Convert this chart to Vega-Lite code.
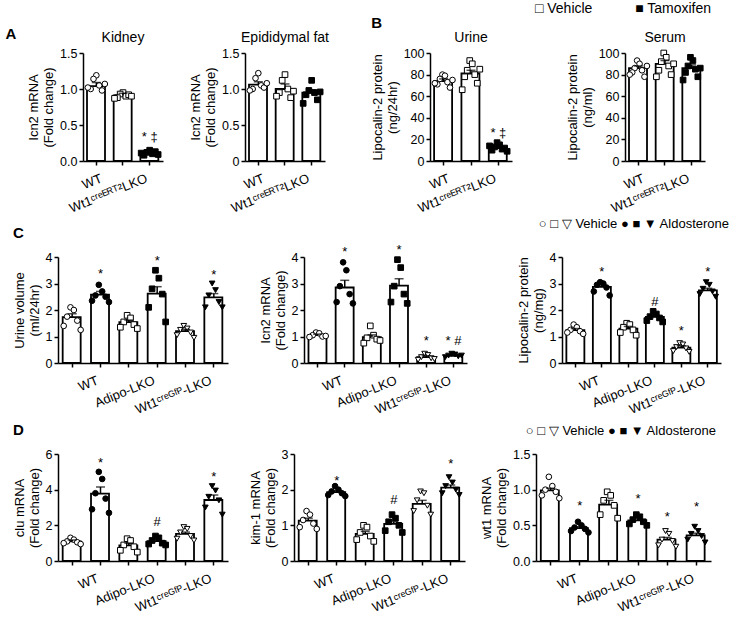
{
  "$schema": "https://vega.github.io/schema/vega-lite/v6.json",
  "padding": {"left": 5, "top": 2, "right": 2, "bottom": 2},
  "config": {
    "font": "Liberation Sans",
    "view": {"stroke": null},
    "axis": {"domainColor": "black", "domainWidth": 1.5, "tickColor": "black", "tickWidth": 1.5, "labelColor": "black", "titleColor": "black", "labelFontSize": 12.5, "titleFontSize": 13, "titleFontWeight": "normal", "grid": false, "labelFont": "Liberation Sans", "titleFont": "Liberation Sans"},
    "axisX": {"tickSize": 4, "labelAngle": -22, "labelAlign": "right", "labelBaseline": "top", "labelPadding": 7, "labelLimit": 300, "labelOverlap": false, "labelFontSize": 13},
    "axisY": {"tickSize": 4, "titlePadding": 4, "labelPadding": 2},
    "title": {"fontSize": 14, "fontWeight": "normal", "font": "Liberation Sans", "color": "black"}
  },
  "datasets": {
    "bars": [
      {"p":"kid","b":"WT|Vehicle","g":"WT","c":"Vehicle","v":1.04,"hi":1.09},
      {"p":"kid","b":"Wt1ᶜʳᵉᴱᴿᵀ²LKO|Vehicle","g":"Wt1ᶜʳᵉᴱᴿᵀ²LKO","c":"Vehicle","v":0.91,"hi":0.94},
      {"p":"kid","b":"Wt1ᶜʳᵉᴱᴿᵀ²LKO|Tamoxifen","g":"Wt1ᶜʳᵉᴱᴿᵀ²LKO","c":"Tamoxifen","v":0.115,"hi":0.13},
      {"p":"epi","b":"WT|Vehicle","g":"WT","c":"Vehicle","v":1.06,"hi":1.1},
      {"p":"epi","b":"Wt1ᶜʳᵉᴱᴿᵀ²LKO|Vehicle","g":"Wt1ᶜʳᵉᴱᴿᵀ²LKO","c":"Vehicle","v":1.0,"hi":1.07},
      {"p":"epi","b":"Wt1ᶜʳᵉᴱᴿᵀ²LKO|Tamoxifen","g":"Wt1ᶜʳᵉᴱᴿᵀ²LKO","c":"Tamoxifen","v":0.95,"hi":0.99},
      {"p":"uri","b":"WT|Vehicle","g":"WT","c":"Vehicle","v":74,"hi":76},
      {"p":"uri","b":"Wt1ᶜʳᵉᴱᴿᵀ²LKO|Vehicle","g":"Wt1ᶜʳᵉᴱᴿᵀ²LKO","c":"Vehicle","v":81,"hi":84},
      {"p":"uri","b":"Wt1ᶜʳᵉᴱᴿᵀ²LKO|Tamoxifen","g":"Wt1ᶜʳᵉᴱᴿᵀ²LKO","c":"Tamoxifen","v":12,"hi":13},
      {"p":"ser","b":"WT|Vehicle","g":"WT","c":"Vehicle","v":86,"hi":88},
      {"p":"ser","b":"Wt1ᶜʳᵉᴱᴿᵀ²LKO|Vehicle","g":"Wt1ᶜʳᵉᴱᴿᵀ²LKO","c":"Vehicle","v":90,"hi":93},
      {"p":"ser","b":"Wt1ᶜʳᵉᴱᴿᵀ²LKO|Tamoxifen","g":"Wt1ᶜʳᵉᴱᴿᵀ²LKO","c":"Tamoxifen","v":86,"hi":89},
      {"p":"c1","b":"WT|Vehicle","g":"WT","c":"Vehicle","v":1.73,"hi":1.86},
      {"p":"c1","b":"WT|Aldosterone","g":"WT","c":"Aldosterone","v":2.58,"hi":2.7},
      {"p":"c1","b":"Adipo-LKO|Vehicle","g":"Adipo-LKO","c":"Vehicle","v":1.54,"hi":1.62},
      {"p":"c1","b":"Adipo-LKO|Aldosterone","g":"Adipo-LKO","c":"Aldosterone","v":2.62,"hi":2.88},
      {"p":"c1","b":"Wt1ᶜʳᵉᴳᶠᴾ-LKO|Vehicle","g":"Wt1ᶜʳᵉᴳᶠᴾ-LKO","c":"Vehicle","v":1.2,"hi":1.27},
      {"p":"c1","b":"Wt1ᶜʳᵉᴳᶠᴾ-LKO|Aldosterone","g":"Wt1ᶜʳᵉᴳᶠᴾ-LKO","c":"Aldosterone","v":2.48,"hi":2.62},
      {"p":"c2","b":"WT|Vehicle","g":"WT","c":"Vehicle","v":1.05,"hi":1.09},
      {"p":"c2","b":"WT|Aldosterone","g":"WT","c":"Aldosterone","v":2.85,"hi":3.12},
      {"p":"c2","b":"Adipo-LKO|Vehicle","g":"Adipo-LKO","c":"Vehicle","v":0.98,"hi":1.06},
      {"p":"c2","b":"Adipo-LKO|Aldosterone","g":"Adipo-LKO","c":"Aldosterone","v":2.92,"hi":3.18},
      {"p":"c2","b":"Wt1ᶜʳᵉᴳᶠᴾ-LKO|Vehicle","g":"Wt1ᶜʳᵉᴳᶠᴾ-LKO","c":"Vehicle","v":0.22,"hi":0.27},
      {"p":"c2","b":"Wt1ᶜʳᵉᴳᶠᴾ-LKO|Aldosterone","g":"Wt1ᶜʳᵉᴳᶠᴾ-LKO","c":"Aldosterone","v":0.27,"hi":0.3},
      {"p":"c3","b":"WT|Vehicle","g":"WT","c":"Vehicle","v":1.24,"hi":1.3},
      {"p":"c3","b":"WT|Aldosterone","g":"WT","c":"Aldosterone","v":2.87,"hi":2.95},
      {"p":"c3","b":"Adipo-LKO|Vehicle","g":"Adipo-LKO","c":"Vehicle","v":1.3,"hi":1.38},
      {"p":"c3","b":"Adipo-LKO|Aldosterone","g":"Adipo-LKO","c":"Aldosterone","v":1.74,"hi":1.8},
      {"p":"c3","b":"Wt1ᶜʳᵉᴳᶠᴾ-LKO|Vehicle","g":"Wt1ᶜʳᵉᴳᶠᴾ-LKO","c":"Vehicle","v":0.58,"hi":0.65},
      {"p":"c3","b":"Wt1ᶜʳᵉᴳᶠᴾ-LKO|Aldosterone","g":"Wt1ᶜʳᵉᴳᶠᴾ-LKO","c":"Aldosterone","v":2.74,"hi":2.82},
      {"p":"d1","b":"WT|Vehicle","g":"WT","c":"Vehicle","v":1.1,"hi":1.18},
      {"p":"d1","b":"WT|Aldosterone","g":"WT","c":"Aldosterone","v":3.78,"hi":4.15},
      {"p":"d1","b":"Adipo-LKO|Vehicle","g":"Adipo-LKO","c":"Vehicle","v":0.88,"hi":1.0},
      {"p":"d1","b":"Adipo-LKO|Aldosterone","g":"Adipo-LKO","c":"Aldosterone","v":1.12,"hi":1.2},
      {"p":"d1","b":"Wt1ᶜʳᵉᴳᶠᴾ-LKO|Vehicle","g":"Wt1ᶜʳᵉᴳᶠᴾ-LKO","c":"Vehicle","v":1.52,"hi":1.62},
      {"p":"d1","b":"Wt1ᶜʳᵉᴳᶠᴾ-LKO|Aldosterone","g":"Wt1ᶜʳᵉᴳᶠᴾ-LKO","c":"Aldosterone","v":3.42,"hi":3.7},
      {"p":"d2","b":"WT|Vehicle","g":"WT","c":"Vehicle","v":1.13,"hi":1.2},
      {"p":"d2","b":"WT|Aldosterone","g":"WT","c":"Aldosterone","v":1.93,"hi":1.97},
      {"p":"d2","b":"Adipo-LKO|Vehicle","g":"Adipo-LKO","c":"Vehicle","v":0.76,"hi":0.83},
      {"p":"d2","b":"Adipo-LKO|Aldosterone","g":"Adipo-LKO","c":"Aldosterone","v":1.04,"hi":1.1},
      {"p":"d2","b":"Wt1ᶜʳᵉᴳᶠᴾ-LKO|Vehicle","g":"Wt1ᶜʳᵉᴳᶠᴾ-LKO","c":"Vehicle","v":1.6,"hi":1.7},
      {"p":"d2","b":"Wt1ᶜʳᵉᴳᶠᴾ-LKO|Aldosterone","g":"Wt1ᶜʳᵉᴳᶠᴾ-LKO","c":"Aldosterone","v":2.06,"hi":2.13},
      {"p":"d3","b":"WT|Vehicle","g":"WT","c":"Vehicle","v":0.99,"hi":1.02},
      {"p":"d3","b":"WT|Aldosterone","g":"WT","c":"Aldosterone","v":0.46,"hi":0.48},
      {"p":"d3","b":"Adipo-LKO|Vehicle","g":"Adipo-LKO","c":"Vehicle","v":0.79,"hi":0.85},
      {"p":"d3","b":"Adipo-LKO|Aldosterone","g":"Adipo-LKO","c":"Aldosterone","v":0.57,"hi":0.6},
      {"p":"d3","b":"Wt1ᶜʳᵉᴳᶠᴾ-LKO|Vehicle","g":"Wt1ᶜʳᵉᴳᶠᴾ-LKO","c":"Vehicle","v":0.3,"hi":0.33},
      {"p":"d3","b":"Wt1ᶜʳᵉᴳᶠᴾ-LKO|Aldosterone","g":"Wt1ᶜʳᵉᴳᶠᴾ-LKO","c":"Aldosterone","v":0.36,"hi":0.39}
    ],
    "ul": [
      {"p":"kid","b":"WT|Vehicle","b2":"WT|Vehicle"},
      {"p":"kid","b":"Wt1ᶜʳᵉᴱᴿᵀ²LKO|Vehicle","b2":"Wt1ᶜʳᵉᴱᴿᵀ²LKO|Tamoxifen"},
      {"p":"epi","b":"WT|Vehicle","b2":"WT|Vehicle"},
      {"p":"epi","b":"Wt1ᶜʳᵉᴱᴿᵀ²LKO|Vehicle","b2":"Wt1ᶜʳᵉᴱᴿᵀ²LKO|Tamoxifen"},
      {"p":"uri","b":"WT|Vehicle","b2":"WT|Vehicle"},
      {"p":"uri","b":"Wt1ᶜʳᵉᴱᴿᵀ²LKO|Vehicle","b2":"Wt1ᶜʳᵉᴱᴿᵀ²LKO|Tamoxifen"},
      {"p":"ser","b":"WT|Vehicle","b2":"WT|Vehicle"},
      {"p":"ser","b":"Wt1ᶜʳᵉᴱᴿᵀ²LKO|Vehicle","b2":"Wt1ᶜʳᵉᴱᴿᵀ²LKO|Tamoxifen"},
      {"p":"c1","b":"WT|Vehicle","b2":"WT|Aldosterone"},
      {"p":"c1","b":"Adipo-LKO|Vehicle","b2":"Adipo-LKO|Aldosterone"},
      {"p":"c1","b":"Wt1ᶜʳᵉᴳᶠᴾ-LKO|Vehicle","b2":"Wt1ᶜʳᵉᴳᶠᴾ-LKO|Aldosterone"},
      {"p":"c2","b":"WT|Vehicle","b2":"WT|Aldosterone"},
      {"p":"c2","b":"Adipo-LKO|Vehicle","b2":"Adipo-LKO|Aldosterone"},
      {"p":"c2","b":"Wt1ᶜʳᵉᴳᶠᴾ-LKO|Vehicle","b2":"Wt1ᶜʳᵉᴳᶠᴾ-LKO|Aldosterone"},
      {"p":"c3","b":"WT|Vehicle","b2":"WT|Aldosterone"},
      {"p":"c3","b":"Adipo-LKO|Vehicle","b2":"Adipo-LKO|Aldosterone"},
      {"p":"c3","b":"Wt1ᶜʳᵉᴳᶠᴾ-LKO|Vehicle","b2":"Wt1ᶜʳᵉᴳᶠᴾ-LKO|Aldosterone"},
      {"p":"d1","b":"WT|Vehicle","b2":"WT|Aldosterone"},
      {"p":"d1","b":"Adipo-LKO|Vehicle","b2":"Adipo-LKO|Aldosterone"},
      {"p":"d1","b":"Wt1ᶜʳᵉᴳᶠᴾ-LKO|Vehicle","b2":"Wt1ᶜʳᵉᴳᶠᴾ-LKO|Aldosterone"},
      {"p":"d2","b":"WT|Vehicle","b2":"WT|Aldosterone"},
      {"p":"d2","b":"Adipo-LKO|Vehicle","b2":"Adipo-LKO|Aldosterone"},
      {"p":"d2","b":"Wt1ᶜʳᵉᴳᶠᴾ-LKO|Vehicle","b2":"Wt1ᶜʳᵉᴳᶠᴾ-LKO|Aldosterone"},
      {"p":"d3","b":"WT|Vehicle","b2":"WT|Aldosterone"},
      {"p":"d3","b":"Adipo-LKO|Vehicle","b2":"Adipo-LKO|Aldosterone"},
      {"p":"d3","b":"Wt1ᶜʳᵉᴳᶠᴾ-LKO|Vehicle","b2":"Wt1ᶜʳᵉᴳᶠᴾ-LKO|Aldosterone"}
    ],
    "ann": [
      {"p":"kid","b":"Wt1ᶜʳᵉᴱᴿᵀ²LKO|Tamoxifen","t":"* ‡","v":0.33},
      {"p":"uri","b":"Wt1ᶜʳᵉᴱᴿᵀ²LKO|Tamoxifen","t":"* ‡","v":26},
      {"p":"c1","b":"WT|Aldosterone","t":"*","v":3.35},
      {"p":"c1","b":"Adipo-LKO|Aldosterone","t":"*","v":3.85},
      {"p":"c1","b":"Wt1ᶜʳᵉᴳᶠᴾ-LKO|Aldosterone","t":"*","v":3.33},
      {"p":"c2","b":"WT|Aldosterone","t":"*","v":4.2},
      {"p":"c2","b":"Adipo-LKO|Aldosterone","t":"*","v":4.25},
      {"p":"c2","b":"Wt1ᶜʳᵉᴳᶠᴾ-LKO|Vehicle","t":"*","v":0.82},
      {"p":"c2","b":"Wt1ᶜʳᵉᴳᶠᴾ-LKO|Aldosterone","t":"* #","v":0.82},
      {"p":"c3","b":"WT|Aldosterone","t":"*","v":3.42},
      {"p":"c3","b":"Adipo-LKO|Aldosterone","t":"#","v":2.3},
      {"p":"c3","b":"Wt1ᶜʳᵉᴳᶠᴾ-LKO|Vehicle","t":"*","v":1.22},
      {"p":"c3","b":"Wt1ᶜʳᵉᴳᶠᴾ-LKO|Aldosterone","t":"*","v":3.42},
      {"p":"d1","b":"WT|Aldosterone","t":"*","v":5.5},
      {"p":"d1","b":"Adipo-LKO|Aldosterone","t":"#","v":2.2},
      {"p":"d1","b":"Wt1ᶜʳᵉᴳᶠᴾ-LKO|Aldosterone","t":"*","v":4.7},
      {"p":"d2","b":"WT|Aldosterone","t":"*","v":2.25},
      {"p":"d2","b":"Adipo-LKO|Aldosterone","t":"#","v":1.7},
      {"p":"d2","b":"Wt1ᶜʳᵉᴳᶠᴾ-LKO|Aldosterone","t":"*","v":2.72},
      {"p":"d3","b":"WT|Aldosterone","t":"*","v":0.77},
      {"p":"d3","b":"Adipo-LKO|Aldosterone","t":"*","v":0.87},
      {"p":"d3","b":"Wt1ᶜʳᵉᴳᶠᴾ-LKO|Vehicle","t":"*","v":0.62},
      {"p":"d3","b":"Wt1ᶜʳᵉᴳᶠᴾ-LKO|Aldosterone","t":"*","v":0.76}
    ],
    "pts": [
      {"p":"kid","b":"WT|Vehicle","r":4,"v":1.19},{"p":"kid","b":"WT|Vehicle","r":3,"v":1.14},{"p":"kid","b":"WT|Vehicle","r":5,"v":1.05},{"p":"kid","b":"WT|Vehicle","r":2,"v":1.0},{"p":"kid","b":"WT|Vehicle","r":6,"v":0.98},{"p":"kid","b":"WT|Vehicle","r":1,"v":1.02},{"p":"kid","b":"WT|Vehicle","r":7,"v":1.07},
      {"p":"kid","b":"Wt1ᶜʳᵉᴱᴿᵀ²LKO|Vehicle","r":4,"v":0.95},{"p":"kid","b":"Wt1ᶜʳᵉᴱᴿᵀ²LKO|Vehicle","r":3,"v":0.93},{"p":"kid","b":"Wt1ᶜʳᵉᴱᴿᵀ²LKO|Vehicle","r":5,"v":0.9},{"p":"kid","b":"Wt1ᶜʳᵉᴱᴿᵀ²LKO|Vehicle","r":2,"v":0.88},{"p":"kid","b":"Wt1ᶜʳᵉᴱᴿᵀ²LKO|Vehicle","r":6,"v":0.92},{"p":"kid","b":"Wt1ᶜʳᵉᴱᴿᵀ²LKO|Vehicle","r":1,"v":0.87},{"p":"kid","b":"Wt1ᶜʳᵉᴱᴿᵀ²LKO|Vehicle","r":7,"v":0.9},
      {"p":"kid","b":"Wt1ᶜʳᵉᴱᴿᵀ²LKO|Tamoxifen","r":4,"v":0.15},{"p":"kid","b":"Wt1ᶜʳᵉᴱᴿᵀ²LKO|Tamoxifen","r":3,"v":0.12},{"p":"kid","b":"Wt1ᶜʳᵉᴱᴿᵀ²LKO|Tamoxifen","r":5,"v":0.1},{"p":"kid","b":"Wt1ᶜʳᵉᴱᴿᵀ²LKO|Tamoxifen","r":2,"v":0.08},{"p":"kid","b":"Wt1ᶜʳᵉᴱᴿᵀ²LKO|Tamoxifen","r":6,"v":0.13},{"p":"kid","b":"Wt1ᶜʳᵉᴱᴿᵀ²LKO|Tamoxifen","r":1,"v":0.11},{"p":"kid","b":"Wt1ᶜʳᵉᴱᴿᵀ²LKO|Tamoxifen","r":7,"v":0.09},
      {"p":"epi","b":"WT|Vehicle","r":4,"v":1.22},{"p":"epi","b":"WT|Vehicle","r":3,"v":1.15},{"p":"epi","b":"WT|Vehicle","r":5,"v":1.05},{"p":"epi","b":"WT|Vehicle","r":2,"v":1.0},{"p":"epi","b":"WT|Vehicle","r":6,"v":1.02},{"p":"epi","b":"WT|Vehicle","r":1,"v":0.98},{"p":"epi","b":"WT|Vehicle","r":7,"v":1.08},
      {"p":"epi","b":"Wt1ᶜʳᵉᴱᴿᵀ²LKO|Vehicle","r":4,"v":1.2},{"p":"epi","b":"Wt1ᶜʳᵉᴱᴿᵀ²LKO|Vehicle","r":3,"v":1.12},{"p":"epi","b":"Wt1ᶜʳᵉᴱᴿᵀ²LKO|Vehicle","r":5,"v":1.0},{"p":"epi","b":"Wt1ᶜʳᵉᴱᴿᵀ²LKO|Vehicle","r":2,"v":0.95},{"p":"epi","b":"Wt1ᶜʳᵉᴱᴿᵀ²LKO|Vehicle","r":6,"v":0.88},{"p":"epi","b":"Wt1ᶜʳᵉᴱᴿᵀ²LKO|Vehicle","r":1,"v":0.9},{"p":"epi","b":"Wt1ᶜʳᵉᴱᴿᵀ²LKO|Vehicle","r":7,"v":0.97},
      {"p":"epi","b":"Wt1ᶜʳᵉᴱᴿᵀ²LKO|Tamoxifen","r":4,"v":1.12},{"p":"epi","b":"Wt1ᶜʳᵉᴱᴿᵀ²LKO|Tamoxifen","r":3,"v":0.98},{"p":"epi","b":"Wt1ᶜʳᵉᴱᴿᵀ²LKO|Tamoxifen","r":5,"v":0.95},{"p":"epi","b":"Wt1ᶜʳᵉᴱᴿᵀ²LKO|Tamoxifen","r":2,"v":0.92},{"p":"epi","b":"Wt1ᶜʳᵉᴱᴿᵀ²LKO|Tamoxifen","r":6,"v":0.85},{"p":"epi","b":"Wt1ᶜʳᵉᴱᴿᵀ²LKO|Tamoxifen","r":1,"v":0.8},{"p":"epi","b":"Wt1ᶜʳᵉᴱᴿᵀ²LKO|Tamoxifen","r":7,"v":0.96},
      {"p":"uri","b":"WT|Vehicle","r":4,"v":80},{"p":"uri","b":"WT|Vehicle","r":5,"v":79},{"p":"uri","b":"WT|Vehicle","r":3,"v":76},{"p":"uri","b":"WT|Vehicle","r":6,"v":73},{"p":"uri","b":"WT|Vehicle","r":2,"v":71},{"p":"uri","b":"WT|Vehicle","r":7,"v":68},{"p":"uri","b":"WT|Vehicle","r":1,"v":72},{"p":"uri","b":"WT|Vehicle","r":8,"v":75},
      {"p":"uri","b":"Wt1ᶜʳᵉᴱᴿᵀ²LKO|Vehicle","r":4,"v":93},{"p":"uri","b":"Wt1ᶜʳᵉᴱᴿᵀ²LKO|Vehicle","r":5,"v":90},{"p":"uri","b":"Wt1ᶜʳᵉᴱᴿᵀ²LKO|Vehicle","r":3,"v":84},{"p":"uri","b":"Wt1ᶜʳᵉᴱᴿᵀ²LKO|Vehicle","r":6,"v":80},{"p":"uri","b":"Wt1ᶜʳᵉᴱᴿᵀ²LKO|Vehicle","r":2,"v":78},{"p":"uri","b":"Wt1ᶜʳᵉᴱᴿᵀ²LKO|Vehicle","r":7,"v":72},{"p":"uri","b":"Wt1ᶜʳᵉᴱᴿᵀ²LKO|Vehicle","r":1,"v":66},{"p":"uri","b":"Wt1ᶜʳᵉᴱᴿᵀ²LKO|Vehicle","r":8,"v":85},
      {"p":"uri","b":"Wt1ᶜʳᵉᴱᴿᵀ²LKO|Tamoxifen","r":4,"v":17},{"p":"uri","b":"Wt1ᶜʳᵉᴱᴿᵀ²LKO|Tamoxifen","r":5,"v":15},{"p":"uri","b":"Wt1ᶜʳᵉᴱᴿᵀ²LKO|Tamoxifen","r":3,"v":13},{"p":"uri","b":"Wt1ᶜʳᵉᴱᴿᵀ²LKO|Tamoxifen","r":6,"v":11},{"p":"uri","b":"Wt1ᶜʳᵉᴱᴿᵀ²LKO|Tamoxifen","r":2,"v":10},{"p":"uri","b":"Wt1ᶜʳᵉᴱᴿᵀ²LKO|Tamoxifen","r":7,"v":12},{"p":"uri","b":"Wt1ᶜʳᵉᴱᴿᵀ²LKO|Tamoxifen","r":1,"v":14},{"p":"uri","b":"Wt1ᶜʳᵉᴱᴿᵀ²LKO|Tamoxifen","r":8,"v":9},
      {"p":"ser","b":"WT|Vehicle","r":4,"v":93},{"p":"ser","b":"WT|Vehicle","r":5,"v":90},{"p":"ser","b":"WT|Vehicle","r":3,"v":86},{"p":"ser","b":"WT|Vehicle","r":6,"v":84},{"p":"ser","b":"WT|Vehicle","r":2,"v":82},{"p":"ser","b":"WT|Vehicle","r":7,"v":78},{"p":"ser","b":"WT|Vehicle","r":1,"v":80},{"p":"ser","b":"WT|Vehicle","r":8,"v":88},
      {"p":"ser","b":"Wt1ᶜʳᵉᴱᴿᵀ²LKO|Vehicle","r":4,"v":100},{"p":"ser","b":"Wt1ᶜʳᵉᴱᴿᵀ²LKO|Vehicle","r":5,"v":96},{"p":"ser","b":"Wt1ᶜʳᵉᴱᴿᵀ²LKO|Vehicle","r":3,"v":92},{"p":"ser","b":"Wt1ᶜʳᵉᴱᴿᵀ²LKO|Vehicle","r":6,"v":88},{"p":"ser","b":"Wt1ᶜʳᵉᴱᴿᵀ²LKO|Vehicle","r":2,"v":84},{"p":"ser","b":"Wt1ᶜʳᵉᴱᴿᵀ²LKO|Vehicle","r":7,"v":80},{"p":"ser","b":"Wt1ᶜʳᵉᴱᴿᵀ²LKO|Vehicle","r":1,"v":78},{"p":"ser","b":"Wt1ᶜʳᵉᴱᴿᵀ²LKO|Vehicle","r":8,"v":90},
      {"p":"ser","b":"Wt1ᶜʳᵉᴱᴿᵀ²LKO|Tamoxifen","r":4,"v":96},{"p":"ser","b":"Wt1ᶜʳᵉᴱᴿᵀ²LKO|Tamoxifen","r":5,"v":93},{"p":"ser","b":"Wt1ᶜʳᵉᴱᴿᵀ²LKO|Tamoxifen","r":3,"v":88},{"p":"ser","b":"Wt1ᶜʳᵉᴱᴿᵀ²LKO|Tamoxifen","r":6,"v":85},{"p":"ser","b":"Wt1ᶜʳᵉᴱᴿᵀ²LKO|Tamoxifen","r":2,"v":82},{"p":"ser","b":"Wt1ᶜʳᵉᴱᴿᵀ²LKO|Tamoxifen","r":7,"v":78},{"p":"ser","b":"Wt1ᶜʳᵉᴱᴿᵀ²LKO|Tamoxifen","r":1,"v":75},{"p":"ser","b":"Wt1ᶜʳᵉᴱᴿᵀ²LKO|Tamoxifen","r":8,"v":86},

      {"p":"c1","b":"WT|Vehicle","r":3,"v":2.1},{"p":"c1","b":"WT|Vehicle","r":4,"v":2.0},{"p":"c1","b":"WT|Vehicle","r":2,"v":1.75},{"p":"c1","b":"WT|Vehicle","r":5,"v":1.6},{"p":"c1","b":"WT|Vehicle","r":1,"v":1.4},{"p":"c1","b":"WT|Vehicle","r":6,"v":1.25},
      {"p":"c1","b":"WT|Aldosterone","r":3,"v":2.95},{"p":"c1","b":"WT|Aldosterone","r":4,"v":2.7},{"p":"c1","b":"WT|Aldosterone","r":2,"v":2.55},{"p":"c1","b":"WT|Aldosterone","r":5,"v":2.5},{"p":"c1","b":"WT|Aldosterone","r":1,"v":2.35},{"p":"c1","b":"WT|Aldosterone","r":6,"v":2.3},
      {"p":"c1","b":"Adipo-LKO|Vehicle","r":3,"v":1.8},{"p":"c1","b":"Adipo-LKO|Vehicle","r":4,"v":1.7},{"p":"c1","b":"Adipo-LKO|Vehicle","r":2,"v":1.55},{"p":"c1","b":"Adipo-LKO|Vehicle","r":5,"v":1.45},{"p":"c1","b":"Adipo-LKO|Vehicle","r":1,"v":1.35},{"p":"c1","b":"Adipo-LKO|Vehicle","r":6,"v":1.3},
      {"p":"c1","b":"Adipo-LKO|Aldosterone","r":3,"v":3.5},{"p":"c1","b":"Adipo-LKO|Aldosterone","r":4,"v":3.2},{"p":"c1","b":"Adipo-LKO|Aldosterone","r":2,"v":2.8},{"p":"c1","b":"Adipo-LKO|Aldosterone","r":5,"v":2.6},{"p":"c1","b":"Adipo-LKO|Aldosterone","r":1,"v":2.1},{"p":"c1","b":"Adipo-LKO|Aldosterone","r":6,"v":1.55},
      {"p":"c1","b":"Wt1ᶜʳᵉᴳᶠᴾ-LKO|Vehicle","r":3,"v":1.4},{"p":"c1","b":"Wt1ᶜʳᵉᴳᶠᴾ-LKO|Vehicle","r":4,"v":1.3},{"p":"c1","b":"Wt1ᶜʳᵉᴳᶠᴾ-LKO|Vehicle","r":2,"v":1.25},{"p":"c1","b":"Wt1ᶜʳᵉᴳᶠᴾ-LKO|Vehicle","r":5,"v":1.15},{"p":"c1","b":"Wt1ᶜʳᵉᴳᶠᴾ-LKO|Vehicle","r":1,"v":1.05},{"p":"c1","b":"Wt1ᶜʳᵉᴳᶠᴾ-LKO|Vehicle","r":6,"v":0.95},
      {"p":"c1","b":"Wt1ᶜʳᵉᴳᶠᴾ-LKO|Aldosterone","r":3,"v":3.0},{"p":"c1","b":"Wt1ᶜʳᵉᴳᶠᴾ-LKO|Aldosterone","r":4,"v":2.75},{"p":"c1","b":"Wt1ᶜʳᵉᴳᶠᴾ-LKO|Aldosterone","r":2,"v":2.55},{"p":"c1","b":"Wt1ᶜʳᵉᴳᶠᴾ-LKO|Aldosterone","r":5,"v":2.3},{"p":"c1","b":"Wt1ᶜʳᵉᴳᶠᴾ-LKO|Aldosterone","r":1,"v":2.1},{"p":"c1","b":"Wt1ᶜʳᵉᴳᶠᴾ-LKO|Aldosterone","r":6,"v":2.1},

      {"p":"c2","b":"WT|Vehicle","r":3,"v":1.15},{"p":"c2","b":"WT|Vehicle","r":4,"v":1.12},{"p":"c2","b":"WT|Vehicle","r":2,"v":1.05},{"p":"c2","b":"WT|Vehicle","r":5,"v":1.0},{"p":"c2","b":"WT|Vehicle","r":1,"v":0.98},{"p":"c2","b":"WT|Vehicle","r":6,"v":1.02},
      {"p":"c2","b":"WT|Aldosterone","r":3,"v":3.8},{"p":"c2","b":"WT|Aldosterone","r":4,"v":3.5},{"p":"c2","b":"WT|Aldosterone","r":2,"v":2.9},{"p":"c2","b":"WT|Aldosterone","r":5,"v":2.6},{"p":"c2","b":"WT|Aldosterone","r":1,"v":2.3},{"p":"c2","b":"WT|Aldosterone","r":6,"v":2.25},
      {"p":"c2","b":"Adipo-LKO|Vehicle","r":3,"v":1.4},{"p":"c2","b":"Adipo-LKO|Vehicle","r":4,"v":1.05},{"p":"c2","b":"Adipo-LKO|Vehicle","r":2,"v":0.95},{"p":"c2","b":"Adipo-LKO|Vehicle","r":5,"v":0.9},{"p":"c2","b":"Adipo-LKO|Vehicle","r":1,"v":0.75},{"p":"c2","b":"Adipo-LKO|Vehicle","r":6,"v":0.85},
      {"p":"c2","b":"Adipo-LKO|Aldosterone","r":3,"v":3.9},{"p":"c2","b":"Adipo-LKO|Aldosterone","r":4,"v":3.6},{"p":"c2","b":"Adipo-LKO|Aldosterone","r":2,"v":2.9},{"p":"c2","b":"Adipo-LKO|Aldosterone","r":5,"v":2.6},{"p":"c2","b":"Adipo-LKO|Aldosterone","r":1,"v":2.3},{"p":"c2","b":"Adipo-LKO|Aldosterone","r":6,"v":2.25},
      {"p":"c2","b":"Wt1ᶜʳᵉᴳᶠᴾ-LKO|Vehicle","r":3,"v":0.35},{"p":"c2","b":"Wt1ᶜʳᵉᴳᶠᴾ-LKO|Vehicle","r":4,"v":0.3},{"p":"c2","b":"Wt1ᶜʳᵉᴳᶠᴾ-LKO|Vehicle","r":2,"v":0.22},{"p":"c2","b":"Wt1ᶜʳᵉᴳᶠᴾ-LKO|Vehicle","r":5,"v":0.18},{"p":"c2","b":"Wt1ᶜʳᵉᴳᶠᴾ-LKO|Vehicle","r":1,"v":0.12},{"p":"c2","b":"Wt1ᶜʳᵉᴳᶠᴾ-LKO|Vehicle","r":6,"v":0.15},
      {"p":"c2","b":"Wt1ᶜʳᵉᴳᶠᴾ-LKO|Aldosterone","r":3,"v":0.35},{"p":"c2","b":"Wt1ᶜʳᵉᴳᶠᴾ-LKO|Aldosterone","r":4,"v":0.32},{"p":"c2","b":"Wt1ᶜʳᵉᴳᶠᴾ-LKO|Aldosterone","r":2,"v":0.28},{"p":"c2","b":"Wt1ᶜʳᵉᴳᶠᴾ-LKO|Aldosterone","r":5,"v":0.25},{"p":"c2","b":"Wt1ᶜʳᵉᴳᶠᴾ-LKO|Aldosterone","r":1,"v":0.22},{"p":"c2","b":"Wt1ᶜʳᵉᴳᶠᴾ-LKO|Aldosterone","r":6,"v":0.28},

      {"p":"c3","b":"WT|Vehicle","r":3,"v":1.45},{"p":"c3","b":"WT|Vehicle","r":4,"v":1.35},{"p":"c3","b":"WT|Vehicle","r":2,"v":1.25},{"p":"c3","b":"WT|Vehicle","r":5,"v":1.2},{"p":"c3","b":"WT|Vehicle","r":1,"v":1.15},{"p":"c3","b":"WT|Vehicle","r":6,"v":1.1},
      {"p":"c3","b":"WT|Aldosterone","r":3,"v":3.05},{"p":"c3","b":"WT|Aldosterone","r":4,"v":3.0},{"p":"c3","b":"WT|Aldosterone","r":2,"v":2.95},{"p":"c3","b":"WT|Aldosterone","r":5,"v":2.85},{"p":"c3","b":"WT|Aldosterone","r":1,"v":2.7},{"p":"c3","b":"WT|Aldosterone","r":6,"v":2.55},
      {"p":"c3","b":"Adipo-LKO|Vehicle","r":3,"v":1.5},{"p":"c3","b":"Adipo-LKO|Vehicle","r":4,"v":1.45},{"p":"c3","b":"Adipo-LKO|Vehicle","r":2,"v":1.35},{"p":"c3","b":"Adipo-LKO|Vehicle","r":5,"v":1.25},{"p":"c3","b":"Adipo-LKO|Vehicle","r":1,"v":1.15},{"p":"c3","b":"Adipo-LKO|Vehicle","r":6,"v":1.05},
      {"p":"c3","b":"Adipo-LKO|Aldosterone","r":3,"v":1.95},{"p":"c3","b":"Adipo-LKO|Aldosterone","r":4,"v":1.85},{"p":"c3","b":"Adipo-LKO|Aldosterone","r":2,"v":1.75},{"p":"c3","b":"Adipo-LKO|Aldosterone","r":5,"v":1.7},{"p":"c3","b":"Adipo-LKO|Aldosterone","r":1,"v":1.6},{"p":"c3","b":"Adipo-LKO|Aldosterone","r":6,"v":1.55},
      {"p":"c3","b":"Wt1ᶜʳᵉᴳᶠᴾ-LKO|Vehicle","r":3,"v":0.75},{"p":"c3","b":"Wt1ᶜʳᵉᴳᶠᴾ-LKO|Vehicle","r":4,"v":0.7},{"p":"c3","b":"Wt1ᶜʳᵉᴳᶠᴾ-LKO|Vehicle","r":2,"v":0.6},{"p":"c3","b":"Wt1ᶜʳᵉᴳᶠᴾ-LKO|Vehicle","r":5,"v":0.55},{"p":"c3","b":"Wt1ᶜʳᵉᴳᶠᴾ-LKO|Vehicle","r":1,"v":0.45},{"p":"c3","b":"Wt1ᶜʳᵉᴳᶠᴾ-LKO|Vehicle","r":6,"v":0.42},
      {"p":"c3","b":"Wt1ᶜʳᵉᴳᶠᴾ-LKO|Aldosterone","r":3,"v":3.05},{"p":"c3","b":"Wt1ᶜʳᵉᴳᶠᴾ-LKO|Aldosterone","r":4,"v":2.95},{"p":"c3","b":"Wt1ᶜʳᵉᴳᶠᴾ-LKO|Aldosterone","r":2,"v":2.8},{"p":"c3","b":"Wt1ᶜʳᵉᴳᶠᴾ-LKO|Aldosterone","r":5,"v":2.7},{"p":"c3","b":"Wt1ᶜʳᵉᴳᶠᴾ-LKO|Aldosterone","r":1,"v":2.6},{"p":"c3","b":"Wt1ᶜʳᵉᴳᶠᴾ-LKO|Aldosterone","r":6,"v":2.5},

      {"p":"d1","b":"WT|Vehicle","r":3,"v":1.3},{"p":"d1","b":"WT|Vehicle","r":4,"v":1.2},{"p":"d1","b":"WT|Vehicle","r":2,"v":1.1},{"p":"d1","b":"WT|Vehicle","r":5,"v":1.05},{"p":"d1","b":"WT|Vehicle","r":1,"v":1.0},{"p":"d1","b":"WT|Vehicle","r":6,"v":0.95},
      {"p":"d1","b":"WT|Aldosterone","r":3,"v":5.0},{"p":"d1","b":"WT|Aldosterone","r":4,"v":4.6},{"p":"d1","b":"WT|Aldosterone","r":2,"v":3.8},{"p":"d1","b":"WT|Aldosterone","r":5,"v":3.5},{"p":"d1","b":"WT|Aldosterone","r":1,"v":2.9},{"p":"d1","b":"WT|Aldosterone","r":6,"v":2.7},
      {"p":"d1","b":"Adipo-LKO|Vehicle","r":3,"v":1.25},{"p":"d1","b":"Adipo-LKO|Vehicle","r":4,"v":1.15},{"p":"d1","b":"Adipo-LKO|Vehicle","r":2,"v":0.9},{"p":"d1","b":"Adipo-LKO|Vehicle","r":5,"v":0.8},{"p":"d1","b":"Adipo-LKO|Vehicle","r":1,"v":0.6},{"p":"d1","b":"Adipo-LKO|Vehicle","r":6,"v":0.5},
      {"p":"d1","b":"Adipo-LKO|Aldosterone","r":3,"v":1.4},{"p":"d1","b":"Adipo-LKO|Aldosterone","r":4,"v":1.3},{"p":"d1","b":"Adipo-LKO|Aldosterone","r":2,"v":1.15},{"p":"d1","b":"Adipo-LKO|Aldosterone","r":5,"v":1.0},{"p":"d1","b":"Adipo-LKO|Aldosterone","r":1,"v":0.95},{"p":"d1","b":"Adipo-LKO|Aldosterone","r":6,"v":0.9},
      {"p":"d1","b":"Wt1ᶜʳᵉᴳᶠᴾ-LKO|Vehicle","r":3,"v":1.9},{"p":"d1","b":"Wt1ᶜʳᵉᴳᶠᴾ-LKO|Vehicle","r":4,"v":1.8},{"p":"d1","b":"Wt1ᶜʳᵉᴳᶠᴾ-LKO|Vehicle","r":2,"v":1.6},{"p":"d1","b":"Wt1ᶜʳᵉᴳᶠᴾ-LKO|Vehicle","r":5,"v":1.4},{"p":"d1","b":"Wt1ᶜʳᵉᴳᶠᴾ-LKO|Vehicle","r":1,"v":1.25},{"p":"d1","b":"Wt1ᶜʳᵉᴳᶠᴾ-LKO|Vehicle","r":6,"v":1.15},
      {"p":"d1","b":"Wt1ᶜʳᵉᴳᶠᴾ-LKO|Aldosterone","r":3,"v":4.2},{"p":"d1","b":"Wt1ᶜʳᵉᴳᶠᴾ-LKO|Aldosterone","r":4,"v":3.95},{"p":"d1","b":"Wt1ᶜʳᵉᴳᶠᴾ-LKO|Aldosterone","r":2,"v":3.6},{"p":"d1","b":"Wt1ᶜʳᵉᴳᶠᴾ-LKO|Aldosterone","r":5,"v":3.4},{"p":"d1","b":"Wt1ᶜʳᵉᴳᶠᴾ-LKO|Aldosterone","r":1,"v":3.0},{"p":"d1","b":"Wt1ᶜʳᵉᴳᶠᴾ-LKO|Aldosterone","r":6,"v":2.6},

      {"p":"d2","b":"WT|Vehicle","r":3,"v":1.4},{"p":"d2","b":"WT|Vehicle","r":4,"v":1.3},{"p":"d2","b":"WT|Vehicle","r":2,"v":1.15},{"p":"d2","b":"WT|Vehicle","r":5,"v":1.05},{"p":"d2","b":"WT|Vehicle","r":1,"v":0.95},{"p":"d2","b":"WT|Vehicle","r":6,"v":0.9},
      {"p":"d2","b":"WT|Aldosterone","r":3,"v":2.1},{"p":"d2","b":"WT|Aldosterone","r":4,"v":2.0},{"p":"d2","b":"WT|Aldosterone","r":2,"v":1.95},{"p":"d2","b":"WT|Aldosterone","r":5,"v":1.9},{"p":"d2","b":"WT|Aldosterone","r":1,"v":1.85},{"p":"d2","b":"WT|Aldosterone","r":6,"v":1.82},
      {"p":"d2","b":"Adipo-LKO|Vehicle","r":3,"v":1.0},{"p":"d2","b":"Adipo-LKO|Vehicle","r":4,"v":0.95},{"p":"d2","b":"Adipo-LKO|Vehicle","r":2,"v":0.8},{"p":"d2","b":"Adipo-LKO|Vehicle","r":5,"v":0.7},{"p":"d2","b":"Adipo-LKO|Vehicle","r":1,"v":0.6},{"p":"d2","b":"Adipo-LKO|Vehicle","r":6,"v":0.55},
      {"p":"d2","b":"Adipo-LKO|Aldosterone","r":3,"v":1.3},{"p":"d2","b":"Adipo-LKO|Aldosterone","r":4,"v":1.2},{"p":"d2","b":"Adipo-LKO|Aldosterone","r":2,"v":1.1},{"p":"d2","b":"Adipo-LKO|Aldosterone","r":5,"v":1.0},{"p":"d2","b":"Adipo-LKO|Aldosterone","r":1,"v":0.85},{"p":"d2","b":"Adipo-LKO|Aldosterone","r":6,"v":0.8},
      {"p":"d2","b":"Wt1ᶜʳᵉᴳᶠᴾ-LKO|Vehicle","r":3,"v":1.95},{"p":"d2","b":"Wt1ᶜʳᵉᴳᶠᴾ-LKO|Vehicle","r":4,"v":1.9},{"p":"d2","b":"Wt1ᶜʳᵉᴳᶠᴾ-LKO|Vehicle","r":2,"v":1.7},{"p":"d2","b":"Wt1ᶜʳᵉᴳᶠᴾ-LKO|Vehicle","r":5,"v":1.55},{"p":"d2","b":"Wt1ᶜʳᵉᴳᶠᴾ-LKO|Vehicle","r":1,"v":1.4},{"p":"d2","b":"Wt1ᶜʳᵉᴳᶠᴾ-LKO|Vehicle","r":6,"v":1.3},
      {"p":"d2","b":"Wt1ᶜʳᵉᴳᶠᴾ-LKO|Aldosterone","r":3,"v":2.35},{"p":"d2","b":"Wt1ᶜʳᵉᴳᶠᴾ-LKO|Aldosterone","r":4,"v":2.2},{"p":"d2","b":"Wt1ᶜʳᵉᴳᶠᴾ-LKO|Aldosterone","r":2,"v":2.1},{"p":"d2","b":"Wt1ᶜʳᵉᴳᶠᴾ-LKO|Aldosterone","r":5,"v":2.0},{"p":"d2","b":"Wt1ᶜʳᵉᴳᶠᴾ-LKO|Aldosterone","r":1,"v":1.9},{"p":"d2","b":"Wt1ᶜʳᵉᴳᶠᴾ-LKO|Aldosterone","r":6,"v":1.85},

      {"p":"d3","b":"WT|Vehicle","r":3,"v":1.18},{"p":"d3","b":"WT|Vehicle","r":4,"v":1.05},{"p":"d3","b":"WT|Vehicle","r":2,"v":1.0},{"p":"d3","b":"WT|Vehicle","r":5,"v":0.97},{"p":"d3","b":"WT|Vehicle","r":1,"v":0.92},{"p":"d3","b":"WT|Vehicle","r":6,"v":0.88},
      {"p":"d3","b":"WT|Aldosterone","r":3,"v":0.55},{"p":"d3","b":"WT|Aldosterone","r":4,"v":0.5},{"p":"d3","b":"WT|Aldosterone","r":2,"v":0.47},{"p":"d3","b":"WT|Aldosterone","r":5,"v":0.45},{"p":"d3","b":"WT|Aldosterone","r":1,"v":0.42},{"p":"d3","b":"WT|Aldosterone","r":6,"v":0.4},
      {"p":"d3","b":"Adipo-LKO|Vehicle","r":3,"v":0.97},{"p":"d3","b":"Adipo-LKO|Vehicle","r":4,"v":0.92},{"p":"d3","b":"Adipo-LKO|Vehicle","r":2,"v":0.85},{"p":"d3","b":"Adipo-LKO|Vehicle","r":5,"v":0.78},{"p":"d3","b":"Adipo-LKO|Vehicle","r":1,"v":0.65},{"p":"d3","b":"Adipo-LKO|Vehicle","r":6,"v":0.6},
      {"p":"d3","b":"Adipo-LKO|Aldosterone","r":3,"v":0.65},{"p":"d3","b":"Adipo-LKO|Aldosterone","r":4,"v":0.62},{"p":"d3","b":"Adipo-LKO|Aldosterone","r":2,"v":0.58},{"p":"d3","b":"Adipo-LKO|Aldosterone","r":5,"v":0.55},{"p":"d3","b":"Adipo-LKO|Aldosterone","r":1,"v":0.52},{"p":"d3","b":"Adipo-LKO|Aldosterone","r":6,"v":0.5},
      {"p":"d3","b":"Wt1ᶜʳᵉᴳᶠᴾ-LKO|Vehicle","r":3,"v":0.42},{"p":"d3","b":"Wt1ᶜʳᵉᴳᶠᴾ-LKO|Vehicle","r":4,"v":0.38},{"p":"d3","b":"Wt1ᶜʳᵉᴳᶠᴾ-LKO|Vehicle","r":2,"v":0.3},{"p":"d3","b":"Wt1ᶜʳᵉᴳᶠᴾ-LKO|Vehicle","r":5,"v":0.28},{"p":"d3","b":"Wt1ᶜʳᵉᴳᶠᴾ-LKO|Vehicle","r":1,"v":0.22},{"p":"d3","b":"Wt1ᶜʳᵉᴳᶠᴾ-LKO|Vehicle","r":6,"v":0.2},
      {"p":"d3","b":"Wt1ᶜʳᵉᴳᶠᴾ-LKO|Aldosterone","r":3,"v":0.48},{"p":"d3","b":"Wt1ᶜʳᵉᴳᶠᴾ-LKO|Aldosterone","r":4,"v":0.42},{"p":"d3","b":"Wt1ᶜʳᵉᴳᶠᴾ-LKO|Aldosterone","r":2,"v":0.38},{"p":"d3","b":"Wt1ᶜʳᵉᴳᶠᴾ-LKO|Aldosterone","r":5,"v":0.35},{"p":"d3","b":"Wt1ᶜʳᵉᴳᶠᴾ-LKO|Aldosterone","r":1,"v":0.3},{"p":"d3","b":"Wt1ᶜʳᵉᴳᶠᴾ-LKO|Aldosterone","r":6,"v":0.26}
    ]
  },
  "spacing": 2,
  "resolve": {"scale": {"xOffset": "independent"}},
  "vconcat": [
    {
      "title": {"text": "□ Vehicle\u00a0\u00a0\u00a0\u00a0\u00a0\u00a0\u00a0\u00a0\u00a0\u00a0\u00a0■ Tamoxifen", "anchor": "end", "frame": "bounds", "fontSize": 14, "offset": 0, "dx": 6},
      "spacing": 42,
      "resolve": {"scale": {"xOffset": "independent"}},
      "hconcat": [
        {
          "title": {"text": "A", "anchor": "start", "frame": "bounds", "fontWeight": "bold", "fontSize": 15, "offset": -11, "dx": -22},
          "spacing": 26,
          "resolve": {"scale": {"xOffset": "independent"}},
          "hconcat": [
            {
              "width": 105, "height": 108,
              "title": {"text": "Kidney", "offset": 2, "dx": 12.5},
              "encoding": {
                "x": {"field": "b", "type": "nominal", "scale": {"domain": ["WT|Vehicle","Wt1ᶜʳᵉᴱᴿᵀ²LKO|Vehicle","Wt1ᶜʳᵉᴱᴿᵀ²LKO|Tamoxifen"], "range": [25, 105], "paddingInner": 0.3, "paddingOuter": 0.15},
                  "axis": {"title": null, "labelExpr": "datum.value=='WT|Vehicle' ? 'WT' : datum.value=='Wt1ᶜʳᵉᴱᴿᵀ²LKO|Tamoxifen' ? 'Wt1ᶜʳᵉᴱᴿᵀ²LKO' : ''", "labelOffset": {"condition": {"test": "datum.value=='WT|Vehicle'", "value": 3}, "value": -5}}},
                "y": {"field": "v", "type": "quantitative", "scale": {"domain": [0, 1.5], "nice": false}, "axis": {"values": [0, 0.5, 1, 1.5], "format": ".1f", "offset": -25, "title": ["Icn2 mRNA", "(Fold change)"]}}
              },
              "layer": [
                {"data": {"name": "ul"}, "transform": [{"filter": "datum.p=='kid'"}], "mark": {"type": "rule", "color": "black", "strokeWidth": 1.6},
                  "encoding": {"x": {"field": "b", "type": "nominal", "bandPosition": 0, "scale": {"domain": ["WT|Vehicle","Wt1ᶜʳᵉᴱᴿᵀ²LKO|Vehicle","Wt1ᶜʳᵉᴱᴿᵀ²LKO|Tamoxifen"], "range": [25, 105], "paddingInner": 0.3, "paddingOuter": 0.15},
                    "axis": {"title": null, "labelExpr": "datum.value=='WT|Vehicle' ? 'WT' : datum.value=='Wt1ᶜʳᵉᴱᴿᵀ²LKO|Tamoxifen' ? 'Wt1ᶜʳᵉᴱᴿᵀ²LKO' : ''", "labelOffset": {"condition": {"test": "datum.value=='WT|Vehicle'", "value": 3}, "value": -5}}},
                    "x2": {"field": "b2", "bandPosition": 1},
                    "y": {"datum": -0.09, "type": "quantitative", "scale": {"domain": [0, 1.5], "nice": false}, "axis": {"values": [0, 0.5, 1, 1.5], "format": ".1f", "offset": -25, "title": ["Icn2 mRNA", "(Fold change)"]}}}},
                {"data": {"name": "bars"}, "transform": [{"filter": "datum.p=='kid'"}], "mark": {"type": "bar", "fill": "white", "stroke": "black", "strokeWidth": 1.8}},
                {"data": {"name": "pts"}, "transform": [{"filter": "datum.p=='kid'"}, {"lookup": "b", "from": {"data": {"name": "bars"}, "key": "b", "fields": ["g", "c"]}}], "mark": {"type": "point", "filled": true, "stroke": "black", "strokeWidth": 1, "size": 32, "opacity": 1},
                  "encoding": {"xOffset": {"field": "r", "type": "ordinal", "scale": {"paddingOuter": 0.3}},
                    "shape": {"field": "g", "type": "nominal", "scale": {"domain": ["WT","Wt1ᶜʳᵉᴱᴿᵀ²LKO","Adipo-LKO","Wt1ᶜʳᵉᴳᶠᴾ-LKO"], "range": ["circle","square","square","triangle-down"]}, "legend": null},
                    "fill": {"field": "c", "type": "nominal", "scale": {"domain": ["Vehicle","Tamoxifen","Aldosterone"], "range": ["white","black","black"]}, "legend": null}}},
                {"data": {"name": "bars"}, "transform": [{"filter": "datum.p=='kid'"}], "mark": {"type": "rule", "color": "black", "strokeWidth": 1.5}, "encoding": {"y2": {"field": "hi"}}},
                {"data": {"name": "bars"}, "transform": [{"filter": "datum.p=='kid'"}], "mark": {"type": "tick", "color": "black", "thickness": 1.5, "size": 9},
                  "encoding": {"y": {"field": "hi", "type": "quantitative", "scale": {"domain": [0, 1.5], "nice": false}, "axis": {"values": [0, 0.5, 1, 1.5], "format": ".1f", "offset": -25, "title": ["Icn2 mRNA", "(Fold change)"]}}}},
                {"data": {"name": "ann"}, "transform": [{"filter": "datum.p=='kid'"}], "mark": {"type": "text", "fontSize": 13, "color": "black"}, "encoding": {"text": {"field": "t"}}}
              ]
            },
            {
              "width": 80, "height": 108,
              "title": {"text": "Epididymal fat", "offset": 2},
              "encoding": {
                "x": {"field": "b", "type": "nominal", "scale": {"domain": ["WT|Vehicle","Wt1ᶜʳᵉᴱᴿᵀ²LKO|Vehicle","Wt1ᶜʳᵉᴱᴿᵀ²LKO|Tamoxifen"], "paddingInner": 0.3, "paddingOuter": 0.15},
                  "axis": {"title": null, "labelExpr": "datum.value=='WT|Vehicle' ? 'WT' : datum.value=='Wt1ᶜʳᵉᴱᴿᵀ²LKO|Tamoxifen' ? 'Wt1ᶜʳᵉᴱᴿᵀ²LKO' : ''", "labelOffset": {"condition": {"test": "datum.value=='WT|Vehicle'", "value": 3}, "value": -5}}},
                "y": {"field": "v", "type": "quantitative", "scale": {"domain": [0, 1.5], "nice": false}, "axis": {"values": [0, 0.5, 1, 1.5], "labelExpr": "datum.value==0 ? '0' : format(datum.value, '.1f')", "title": ["Icn2  mRNA", "(Fold change)"]}}
              },
              "layer": [
                {"data": {"name": "ul"}, "transform": [{"filter": "datum.p=='epi'"}], "mark": {"type": "rule", "color": "black", "strokeWidth": 1.6},
                  "encoding": {"x": {"field": "b", "type": "nominal", "bandPosition": 0, "scale": {"domain": ["WT|Vehicle","Wt1ᶜʳᵉᴱᴿᵀ²LKO|Vehicle","Wt1ᶜʳᵉᴱᴿᵀ²LKO|Tamoxifen"], "paddingInner": 0.3, "paddingOuter": 0.15},
                    "axis": {"title": null, "labelExpr": "datum.value=='WT|Vehicle' ? 'WT' : datum.value=='Wt1ᶜʳᵉᴱᴿᵀ²LKO|Tamoxifen' ? 'Wt1ᶜʳᵉᴱᴿᵀ²LKO' : ''", "labelOffset": {"condition": {"test": "datum.value=='WT|Vehicle'", "value": 3}, "value": -5}}},
                    "x2": {"field": "b2", "bandPosition": 1},
                    "y": {"datum": -0.09, "type": "quantitative", "scale": {"domain": [0, 1.5], "nice": false}, "axis": {"values": [0, 0.5, 1, 1.5], "labelExpr": "datum.value==0 ? '0' : format(datum.value, '.1f')", "title": ["Icn2  mRNA", "(Fold change)"]}}}},
                {"data": {"name": "bars"}, "transform": [{"filter": "datum.p=='epi'"}], "mark": {"type": "bar", "fill": "white", "stroke": "black", "strokeWidth": 1.8}},
                {"data": {"name": "pts"}, "transform": [{"filter": "datum.p=='epi'"}, {"lookup": "b", "from": {"data": {"name": "bars"}, "key": "b", "fields": ["g", "c"]}}], "mark": {"type": "point", "filled": true, "stroke": "black", "strokeWidth": 1, "size": 32, "opacity": 1},
                  "encoding": {"xOffset": {"field": "r", "type": "ordinal", "scale": {"paddingOuter": 0.3}},
                    "shape": {"field": "g", "type": "nominal", "scale": {"domain": ["WT","Wt1ᶜʳᵉᴱᴿᵀ²LKO","Adipo-LKO","Wt1ᶜʳᵉᴳᶠᴾ-LKO"], "range": ["circle","square","square","triangle-down"]}, "legend": null},
                    "fill": {"field": "c", "type": "nominal", "scale": {"domain": ["Vehicle","Tamoxifen","Aldosterone"], "range": ["white","black","black"]}, "legend": null}}},
                {"data": {"name": "bars"}, "transform": [{"filter": "datum.p=='epi'"}], "mark": {"type": "rule", "color": "black", "strokeWidth": 1.5}, "encoding": {"y2": {"field": "hi"}}},
                {"data": {"name": "bars"}, "transform": [{"filter": "datum.p=='epi'"}], "mark": {"type": "tick", "color": "black", "thickness": 1.5, "size": 9},
                  "encoding": {"y": {"field": "hi", "type": "quantitative", "scale": {"domain": [0, 1.5], "nice": false}, "axis": {"values": [0, 0.5, 1, 1.5], "labelExpr": "datum.value==0 ? '0' : format(datum.value, '.1f')", "title": ["Icn2  mRNA", "(Fold change)"]}}}}
              ]
            }
          ]
        },
        {
          "title": {"text": "B", "anchor": "start", "frame": "bounds", "fontWeight": "bold", "fontSize": 15, "offset": 0},
          "spacing": 54,
          "resolve": {"scale": {"xOffset": "independent"}},
          "hconcat": [
            {
              "width": 82, "height": 108,
              "title": {"text": "Urine", "offset": 2},
              "encoding": {
                "x": {"field": "b", "type": "nominal", "scale": {"domain": ["WT|Vehicle","Wt1ᶜʳᵉᴱᴿᵀ²LKO|Vehicle","Wt1ᶜʳᵉᴱᴿᵀ²LKO|Tamoxifen"], "paddingInner": 0.3, "paddingOuter": 0.15},
                  "axis": {"title": null, "labelExpr": "datum.value=='WT|Vehicle' ? 'WT' : datum.value=='Wt1ᶜʳᵉᴱᴿᵀ²LKO|Tamoxifen' ? 'Wt1ᶜʳᵉᴱᴿᵀ²LKO' : ''", "labelOffset": {"condition": {"test": "datum.value=='WT|Vehicle'", "value": 3}, "value": -5}}},
                "y": {"field": "v", "type": "quantitative", "scale": {"domain": [0, 100], "nice": false}, "axis": {"values": [0, 20, 40, 60, 80, 100], "title": ["Lipocalin-2 protein", "(ng/24hr)"]}}
              },
              "layer": [
                {"data": {"name": "ul"}, "transform": [{"filter": "datum.p=='uri'"}], "mark": {"type": "rule", "color": "black", "strokeWidth": 1.6},
                  "encoding": {"x": {"field": "b", "type": "nominal", "bandPosition": 0, "scale": {"domain": ["WT|Vehicle","Wt1ᶜʳᵉᴱᴿᵀ²LKO|Vehicle","Wt1ᶜʳᵉᴱᴿᵀ²LKO|Tamoxifen"], "paddingInner": 0.3, "paddingOuter": 0.15},
                    "axis": {"title": null, "labelExpr": "datum.value=='WT|Vehicle' ? 'WT' : datum.value=='Wt1ᶜʳᵉᴱᴿᵀ²LKO|Tamoxifen' ? 'Wt1ᶜʳᵉᴱᴿᵀ²LKO' : ''", "labelOffset": {"condition": {"test": "datum.value=='WT|Vehicle'", "value": 3}, "value": -5}}},
                    "x2": {"field": "b2", "bandPosition": 1},
                    "y": {"datum": -6, "type": "quantitative", "scale": {"domain": [0, 100], "nice": false}, "axis": {"values": [0, 20, 40, 60, 80, 100], "title": ["Lipocalin-2 protein", "(ng/24hr)"]}}}},
                {"data": {"name": "bars"}, "transform": [{"filter": "datum.p=='uri'"}], "mark": {"type": "bar", "fill": "white", "stroke": "black", "strokeWidth": 1.8}},
                {"data": {"name": "pts"}, "transform": [{"filter": "datum.p=='uri'"}, {"lookup": "b", "from": {"data": {"name": "bars"}, "key": "b", "fields": ["g", "c"]}}], "mark": {"type": "point", "filled": true, "stroke": "black", "strokeWidth": 1, "size": 32, "opacity": 1},
                  "encoding": {"xOffset": {"field": "r", "type": "ordinal", "scale": {"paddingOuter": 0.3}},
                    "shape": {"field": "g", "type": "nominal", "scale": {"domain": ["WT","Wt1ᶜʳᵉᴱᴿᵀ²LKO","Adipo-LKO","Wt1ᶜʳᵉᴳᶠᴾ-LKO"], "range": ["circle","square","square","triangle-down"]}, "legend": null},
                    "fill": {"field": "c", "type": "nominal", "scale": {"domain": ["Vehicle","Tamoxifen","Aldosterone"], "range": ["white","black","black"]}, "legend": null}}},
                {"data": {"name": "bars"}, "transform": [{"filter": "datum.p=='uri'"}], "mark": {"type": "rule", "color": "black", "strokeWidth": 1.5}, "encoding": {"y2": {"field": "hi"}}},
                {"data": {"name": "bars"}, "transform": [{"filter": "datum.p=='uri'"}], "mark": {"type": "tick", "color": "black", "thickness": 1.5, "size": 9},
                  "encoding": {"y": {"field": "hi", "type": "quantitative", "scale": {"domain": [0, 100], "nice": false}, "axis": {"values": [0, 20, 40, 60, 80, 100], "title": ["Lipocalin-2 protein", "(ng/24hr)"]}}}},
                {"data": {"name": "ann"}, "transform": [{"filter": "datum.p=='uri'"}], "mark": {"type": "text", "fontSize": 13, "color": "black"}, "encoding": {"text": {"field": "t"}}}
              ]
            },
            {
              "width": 80, "height": 108,
              "title": {"text": "Serum", "offset": 2},
              "encoding": {
                "x": {"field": "b", "type": "nominal", "scale": {"domain": ["WT|Vehicle","Wt1ᶜʳᵉᴱᴿᵀ²LKO|Vehicle","Wt1ᶜʳᵉᴱᴿᵀ²LKO|Tamoxifen"], "paddingInner": 0.3, "paddingOuter": 0.15},
                  "axis": {"title": null, "labelExpr": "datum.value=='WT|Vehicle' ? 'WT' : datum.value=='Wt1ᶜʳᵉᴱᴿᵀ²LKO|Tamoxifen' ? 'Wt1ᶜʳᵉᴱᴿᵀ²LKO' : ''", "labelOffset": {"condition": {"test": "datum.value=='WT|Vehicle'", "value": 3}, "value": -5}}},
                "y": {"field": "v", "type": "quantitative", "scale": {"domain": [0, 100], "nice": false}, "axis": {"values": [0, 20, 40, 60, 80, 100], "title": ["Lipocalin-2 protein", "(ng/ml)"]}}
              },
              "layer": [
                {"data": {"name": "ul"}, "transform": [{"filter": "datum.p=='ser'"}], "mark": {"type": "rule", "color": "black", "strokeWidth": 1.6},
                  "encoding": {"x": {"field": "b", "type": "nominal", "bandPosition": 0, "scale": {"domain": ["WT|Vehicle","Wt1ᶜʳᵉᴱᴿᵀ²LKO|Vehicle","Wt1ᶜʳᵉᴱᴿᵀ²LKO|Tamoxifen"], "paddingInner": 0.3, "paddingOuter": 0.15},
                    "axis": {"title": null, "labelExpr": "datum.value=='WT|Vehicle' ? 'WT' : datum.value=='Wt1ᶜʳᵉᴱᴿᵀ²LKO|Tamoxifen' ? 'Wt1ᶜʳᵉᴱᴿᵀ²LKO' : ''", "labelOffset": {"condition": {"test": "datum.value=='WT|Vehicle'", "value": 3}, "value": -5}}},
                    "x2": {"field": "b2", "bandPosition": 1},
                    "y": {"datum": -6, "type": "quantitative", "scale": {"domain": [0, 100], "nice": false}, "axis": {"values": [0, 20, 40, 60, 80, 100], "title": ["Lipocalin-2 protein", "(ng/ml)"]}}}},
                {"data": {"name": "bars"}, "transform": [{"filter": "datum.p=='ser'"}], "mark": {"type": "bar", "fill": "white", "stroke": "black", "strokeWidth": 1.8}},
                {"data": {"name": "pts"}, "transform": [{"filter": "datum.p=='ser'"}, {"lookup": "b", "from": {"data": {"name": "bars"}, "key": "b", "fields": ["g", "c"]}}], "mark": {"type": "point", "filled": true, "stroke": "black", "strokeWidth": 1, "size": 32, "opacity": 1},
                  "encoding": {"xOffset": {"field": "r", "type": "ordinal", "scale": {"paddingOuter": 0.3}},
                    "shape": {"field": "g", "type": "nominal", "scale": {"domain": ["WT","Wt1ᶜʳᵉᴱᴿᵀ²LKO","Adipo-LKO","Wt1ᶜʳᵉᴳᶠᴾ-LKO"], "range": ["circle","square","square","triangle-down"]}, "legend": null},
                    "fill": {"field": "c", "type": "nominal", "scale": {"domain": ["Vehicle","Tamoxifen","Aldosterone"], "range": ["white","black","black"]}, "legend": null}}},
                {"data": {"name": "bars"}, "transform": [{"filter": "datum.p=='ser'"}], "mark": {"type": "rule", "color": "black", "strokeWidth": 1.5}, "encoding": {"y2": {"field": "hi"}}},
                {"data": {"name": "bars"}, "transform": [{"filter": "datum.p=='ser'"}], "mark": {"type": "tick", "color": "black", "thickness": 1.5, "size": 9},
                  "encoding": {"y": {"field": "hi", "type": "quantitative", "scale": {"domain": [0, 100], "nice": false}, "axis": {"values": [0, 20, 40, 60, 80, 100], "title": ["Lipocalin-2 protein", "(ng/ml)"]}}}}
              ]
            }
          ]
        }
      ]
    },
    {
      "spacing": 6,
      "resolve": {"scale": {"xOffset": "independent"}},
      "vconcat": [
        {
          "spacing": 50,
          "resolve": {"scale": {"xOffset": "independent"}},
          "hconcat": [
            {
              "spacing": 31,
              "resolve": {"scale": {"xOffset": "independent"}},
              "hconcat": [
                {
                  "width": 170, "height": 106,
                  "title": {"text": "C", "anchor": "start", "frame": "bounds", "fontWeight": "bold", "fontSize": 15, "offset": 10},
                  "encoding": {
                    "x": {"field": "b", "type": "nominal", "scale": {"domain": ["WT|Vehicle","WT|Aldosterone","Adipo-LKO|Vehicle","Adipo-LKO|Aldosterone","Wt1ᶜʳᵉᴳᶠᴾ-LKO|Vehicle","Wt1ᶜʳᵉᴳᶠᴾ-LKO|Aldosterone"], "paddingInner": 0.33, "paddingOuter": 0.165},
                      "axis": {"title": null, "labelExpr": "datum.value=='WT|Aldosterone' ? 'WT' : datum.value=='Adipo-LKO|Aldosterone' ? 'Adipo-LKO' : datum.value=='Wt1ᶜʳᵉᴳᶠᴾ-LKO|Aldosterone' ? 'Wt1ᶜʳᵉᴳᶠᴾ-LKO' : ''", "labelOffset": -5}},
                    "y": {"field": "v", "type": "quantitative", "scale": {"domain": [0, 4], "nice": false}, "axis": {"values": [0, 1, 2, 3, 4], "title": ["Urine volume", "(ml/24hr)"]}}
                  },
                  "layer": [
                    {"data": {"name": "ul"}, "transform": [{"filter": "datum.p=='c1'"}], "mark": {"type": "rule", "color": "black", "strokeWidth": 1.6},
                      "encoding": {"x": {"field": "b", "type": "nominal", "bandPosition": 0, "scale": {"domain": ["WT|Vehicle","WT|Aldosterone","Adipo-LKO|Vehicle","Adipo-LKO|Aldosterone","Wt1ᶜʳᵉᴳᶠᴾ-LKO|Vehicle","Wt1ᶜʳᵉᴳᶠᴾ-LKO|Aldosterone"], "paddingInner": 0.33, "paddingOuter": 0.165},
                        "axis": {"title": null, "labelExpr": "datum.value=='WT|Aldosterone' ? 'WT' : datum.value=='Adipo-LKO|Aldosterone' ? 'Adipo-LKO' : datum.value=='Wt1ᶜʳᵉᴳᶠᴾ-LKO|Aldosterone' ? 'Wt1ᶜʳᵉᴳᶠᴾ-LKO' : ''", "labelOffset": -5}},
                        "x2": {"field": "b2", "bandPosition": 1},
                        "y": {"datum": -0.24, "type": "quantitative", "scale": {"domain": [0, 4], "nice": false}, "axis": {"values": [0, 1, 2, 3, 4], "title": ["Urine volume", "(ml/24hr)"]}}}},
                    {"data": {"name": "bars"}, "transform": [{"filter": "datum.p=='c1'"}], "mark": {"type": "bar", "fill": "white", "stroke": "black", "strokeWidth": 1.8}},
                    {"data": {"name": "pts"}, "transform": [{"filter": "datum.p=='c1'"}, {"lookup": "b", "from": {"data": {"name": "bars"}, "key": "b", "fields": ["g", "c"]}}], "mark": {"type": "point", "filled": true, "stroke": "black", "strokeWidth": 1, "size": 32, "opacity": 1},
                      "encoding": {"xOffset": {"field": "r", "type": "ordinal", "scale": {"paddingOuter": 0.3}},
                        "shape": {"field": "g", "type": "nominal", "scale": {"domain": ["WT","Wt1ᶜʳᵉᴱᴿᵀ²LKO","Adipo-LKO","Wt1ᶜʳᵉᴳᶠᴾ-LKO"], "range": ["circle","square","square","triangle-down"]}, "legend": null},
                        "fill": {"field": "c", "type": "nominal", "scale": {"domain": ["Vehicle","Tamoxifen","Aldosterone"], "range": ["white","black","black"]}, "legend": null}}},
                    {"data": {"name": "bars"}, "transform": [{"filter": "datum.p=='c1'"}], "mark": {"type": "rule", "color": "black", "strokeWidth": 1.5}, "encoding": {"y2": {"field": "hi"}}},
                    {"data": {"name": "bars"}, "transform": [{"filter": "datum.p=='c1'"}], "mark": {"type": "tick", "color": "black", "thickness": 1.5, "size": 9},
                      "encoding": {"y": {"field": "hi", "type": "quantitative", "scale": {"domain": [0, 4], "nice": false}, "axis": {"values": [0, 1, 2, 3, 4], "title": ["Urine volume", "(ml/24hr)"]}}}},
                    {"data": {"name": "ann"}, "transform": [{"filter": "datum.p=='c1'"}], "mark": {"type": "text", "fontSize": 13, "color": "black"}, "encoding": {"text": {"field": "t"}}}
                  ]
                },
                {
                  "width": 163, "height": 106,
                  "encoding": {
                    "x": {"field": "b", "type": "nominal", "scale": {"domain": ["WT|Vehicle","WT|Aldosterone","Adipo-LKO|Vehicle","Adipo-LKO|Aldosterone","Wt1ᶜʳᵉᴳᶠᴾ-LKO|Vehicle","Wt1ᶜʳᵉᴳᶠᴾ-LKO|Aldosterone"], "paddingInner": 0.33, "paddingOuter": 0.165},
                      "axis": {"title": null, "labelExpr": "datum.value=='WT|Aldosterone' ? 'WT' : datum.value=='Adipo-LKO|Aldosterone' ? 'Adipo-LKO' : datum.value=='Wt1ᶜʳᵉᴳᶠᴾ-LKO|Aldosterone' ? 'Wt1ᶜʳᵉᴳᶠᴾ-LKO' : ''", "labelOffset": -5}},
                    "y": {"field": "v", "type": "quantitative", "scale": {"domain": [0, 4], "nice": false}, "axis": {"values": [0, 1, 2, 3, 4], "title": ["Icn2 mRNA", "(Fold change)"]}}
                  },
                  "layer": [
                    {"data": {"name": "ul"}, "transform": [{"filter": "datum.p=='c2'"}], "mark": {"type": "rule", "color": "black", "strokeWidth": 1.6},
                      "encoding": {"x": {"field": "b", "type": "nominal", "bandPosition": 0, "scale": {"domain": ["WT|Vehicle","WT|Aldosterone","Adipo-LKO|Vehicle","Adipo-LKO|Aldosterone","Wt1ᶜʳᵉᴳᶠᴾ-LKO|Vehicle","Wt1ᶜʳᵉᴳᶠᴾ-LKO|Aldosterone"], "paddingInner": 0.33, "paddingOuter": 0.165},
                        "axis": {"title": null, "labelExpr": "datum.value=='WT|Aldosterone' ? 'WT' : datum.value=='Adipo-LKO|Aldosterone' ? 'Adipo-LKO' : datum.value=='Wt1ᶜʳᵉᴳᶠᴾ-LKO|Aldosterone' ? 'Wt1ᶜʳᵉᴳᶠᴾ-LKO' : ''", "labelOffset": -5}},
                        "x2": {"field": "b2", "bandPosition": 1},
                        "y": {"datum": -0.24, "type": "quantitative", "scale": {"domain": [0, 4], "nice": false}, "axis": {"values": [0, 1, 2, 3, 4], "title": ["Icn2 mRNA", "(Fold change)"]}}}},
                    {"data": {"name": "bars"}, "transform": [{"filter": "datum.p=='c2'"}], "mark": {"type": "bar", "fill": "white", "stroke": "black", "strokeWidth": 1.8}},
                    {"data": {"name": "pts"}, "transform": [{"filter": "datum.p=='c2'"}, {"lookup": "b", "from": {"data": {"name": "bars"}, "key": "b", "fields": ["g", "c"]}}], "mark": {"type": "point", "filled": true, "stroke": "black", "strokeWidth": 1, "size": 32, "opacity": 1},
                      "encoding": {"xOffset": {"field": "r", "type": "ordinal", "scale": {"paddingOuter": 0.3}},
                        "shape": {"field": "g", "type": "nominal", "scale": {"domain": ["WT","Wt1ᶜʳᵉᴱᴿᵀ²LKO","Adipo-LKO","Wt1ᶜʳᵉᴳᶠᴾ-LKO"], "range": ["circle","square","square","triangle-down"]}, "legend": null},
                        "fill": {"field": "c", "type": "nominal", "scale": {"domain": ["Vehicle","Tamoxifen","Aldosterone"], "range": ["white","black","black"]}, "legend": null}}},
                    {"data": {"name": "bars"}, "transform": [{"filter": "datum.p=='c2'"}], "mark": {"type": "rule", "color": "black", "strokeWidth": 1.5}, "encoding": {"y2": {"field": "hi"}}},
                    {"data": {"name": "bars"}, "transform": [{"filter": "datum.p=='c2'"}], "mark": {"type": "tick", "color": "black", "thickness": 1.5, "size": 9},
                      "encoding": {"y": {"field": "hi", "type": "quantitative", "scale": {"domain": [0, 4], "nice": false}, "axis": {"values": [0, 1, 2, 3, 4], "title": ["Icn2 mRNA", "(Fold change)"]}}}},
                    {"data": {"name": "ann"}, "transform": [{"filter": "datum.p=='c2'"}], "mark": {"type": "text", "fontSize": 13, "color": "black"}, "encoding": {"text": {"field": "t"}}}
                  ]
                }
              ]
            },
            {
              "width": 159, "height": 106,
              "title": {"text": "○ □ ▽ Vehicle  ● ■ ▼ Aldosterone", "anchor": "end", "frame": "bounds", "fontSize": 13, "offset": 20, "dx": 8},
              "encoding": {
                "x": {"field": "b", "type": "nominal", "scale": {"domain": ["WT|Vehicle","WT|Aldosterone","Adipo-LKO|Vehicle","Adipo-LKO|Aldosterone","Wt1ᶜʳᵉᴳᶠᴾ-LKO|Vehicle","Wt1ᶜʳᵉᴳᶠᴾ-LKO|Aldosterone"], "paddingInner": 0.33, "paddingOuter": 0.165},
                  "axis": {"title": null, "labelExpr": "datum.value=='WT|Aldosterone' ? 'WT' : datum.value=='Adipo-LKO|Aldosterone' ? 'Adipo-LKO' : datum.value=='Wt1ᶜʳᵉᴳᶠᴾ-LKO|Aldosterone' ? 'Wt1ᶜʳᵉᴳᶠᴾ-LKO' : ''", "labelOffset": -5}},
                "y": {"field": "v", "type": "quantitative", "scale": {"domain": [0, 4], "nice": false}, "axis": {"values": [0, 1, 2, 3, 4], "title": ["Lipocalin-2 protein", "(ng/mg)"]}}
              },
              "layer": [
                {"data": {"name": "ul"}, "transform": [{"filter": "datum.p=='c3'"}], "mark": {"type": "rule", "color": "black", "strokeWidth": 1.6},
                  "encoding": {"x": {"field": "b", "type": "nominal", "bandPosition": 0, "scale": {"domain": ["WT|Vehicle","WT|Aldosterone","Adipo-LKO|Vehicle","Adipo-LKO|Aldosterone","Wt1ᶜʳᵉᴳᶠᴾ-LKO|Vehicle","Wt1ᶜʳᵉᴳᶠᴾ-LKO|Aldosterone"], "paddingInner": 0.33, "paddingOuter": 0.165},
                    "axis": {"title": null, "labelExpr": "datum.value=='WT|Aldosterone' ? 'WT' : datum.value=='Adipo-LKO|Aldosterone' ? 'Adipo-LKO' : datum.value=='Wt1ᶜʳᵉᴳᶠᴾ-LKO|Aldosterone' ? 'Wt1ᶜʳᵉᴳᶠᴾ-LKO' : ''", "labelOffset": -5}},
                    "x2": {"field": "b2", "bandPosition": 1},
                    "y": {"datum": -0.24, "type": "quantitative", "scale": {"domain": [0, 4], "nice": false}, "axis": {"values": [0, 1, 2, 3, 4], "title": ["Lipocalin-2 protein", "(ng/mg)"]}}}},
                {"data": {"name": "bars"}, "transform": [{"filter": "datum.p=='c3'"}], "mark": {"type": "bar", "fill": "white", "stroke": "black", "strokeWidth": 1.8}},
                {"data": {"name": "pts"}, "transform": [{"filter": "datum.p=='c3'"}, {"lookup": "b", "from": {"data": {"name": "bars"}, "key": "b", "fields": ["g", "c"]}}], "mark": {"type": "point", "filled": true, "stroke": "black", "strokeWidth": 1, "size": 32, "opacity": 1},
                  "encoding": {"xOffset": {"field": "r", "type": "ordinal", "scale": {"paddingOuter": 0.3}},
                    "shape": {"field": "g", "type": "nominal", "scale": {"domain": ["WT","Wt1ᶜʳᵉᴱᴿᵀ²LKO","Adipo-LKO","Wt1ᶜʳᵉᴳᶠᴾ-LKO"], "range": ["circle","square","square","triangle-down"]}, "legend": null},
                    "fill": {"field": "c", "type": "nominal", "scale": {"domain": ["Vehicle","Tamoxifen","Aldosterone"], "range": ["white","black","black"]}, "legend": null}}},
                {"data": {"name": "bars"}, "transform": [{"filter": "datum.p=='c3'"}], "mark": {"type": "rule", "color": "black", "strokeWidth": 1.5}, "encoding": {"y2": {"field": "hi"}}},
                {"data": {"name": "bars"}, "transform": [{"filter": "datum.p=='c3'"}], "mark": {"type": "tick", "color": "black", "thickness": 1.5, "size": 9},
                  "encoding": {"y": {"field": "hi", "type": "quantitative", "scale": {"domain": [0, 4], "nice": false}, "axis": {"values": [0, 1, 2, 3, 4], "title": ["Lipocalin-2 protein", "(ng/mg)"]}}}},
                {"data": {"name": "ann"}, "transform": [{"filter": "datum.p=='c3'"}], "mark": {"type": "text", "fontSize": 13, "color": "black"}, "encoding": {"text": {"field": "t"}}}
              ]
            }
          ]
        },
        {
          "spacing": 15,
          "resolve": {"scale": {"xOffset": "independent"}},
          "hconcat": [
            {
              "spacing": 21,
              "resolve": {"scale": {"xOffset": "independent"}},
              "hconcat": [
                {
                  "width": 170, "height": 107,
                  "title": {"text": "D", "anchor": "start", "frame": "bounds", "fontWeight": "bold", "fontSize": 15, "offset": 10},
                  "encoding": {
                    "x": {"field": "b", "type": "nominal", "scale": {"domain": ["WT|Vehicle","WT|Aldosterone","Adipo-LKO|Vehicle","Adipo-LKO|Aldosterone","Wt1ᶜʳᵉᴳᶠᴾ-LKO|Vehicle","Wt1ᶜʳᵉᴳᶠᴾ-LKO|Aldosterone"], "paddingInner": 0.33, "paddingOuter": 0.165},
                      "axis": {"title": null, "labelExpr": "datum.value=='WT|Aldosterone' ? 'WT' : datum.value=='Adipo-LKO|Aldosterone' ? 'Adipo-LKO' : datum.value=='Wt1ᶜʳᵉᴳᶠᴾ-LKO|Aldosterone' ? 'Wt1ᶜʳᵉᴳᶠᴾ-LKO' : ''", "labelOffset": -5}},
                    "y": {"field": "v", "type": "quantitative", "scale": {"domain": [0, 6], "nice": false}, "axis": {"values": [0, 2, 4, 6], "title": ["clu mRNA", "(Fold change)"]}}
                  },
                  "layer": [
                    {"data": {"name": "ul"}, "transform": [{"filter": "datum.p=='d1'"}], "mark": {"type": "rule", "color": "black", "strokeWidth": 1.6},
                      "encoding": {"x": {"field": "b", "type": "nominal", "bandPosition": 0, "scale": {"domain": ["WT|Vehicle","WT|Aldosterone","Adipo-LKO|Vehicle","Adipo-LKO|Aldosterone","Wt1ᶜʳᵉᴳᶠᴾ-LKO|Vehicle","Wt1ᶜʳᵉᴳᶠᴾ-LKO|Aldosterone"], "paddingInner": 0.33, "paddingOuter": 0.165},
                        "axis": {"title": null, "labelExpr": "datum.value=='WT|Aldosterone' ? 'WT' : datum.value=='Adipo-LKO|Aldosterone' ? 'Adipo-LKO' : datum.value=='Wt1ᶜʳᵉᴳᶠᴾ-LKO|Aldosterone' ? 'Wt1ᶜʳᵉᴳᶠᴾ-LKO' : ''", "labelOffset": -5}},
                        "x2": {"field": "b2", "bandPosition": 1},
                        "y": {"datum": -0.36, "type": "quantitative", "scale": {"domain": [0, 6], "nice": false}, "axis": {"values": [0, 2, 4, 6], "title": ["clu mRNA", "(Fold change)"]}}}},
                    {"data": {"name": "bars"}, "transform": [{"filter": "datum.p=='d1'"}], "mark": {"type": "bar", "fill": "white", "stroke": "black", "strokeWidth": 1.8}},
                    {"data": {"name": "pts"}, "transform": [{"filter": "datum.p=='d1'"}, {"lookup": "b", "from": {"data": {"name": "bars"}, "key": "b", "fields": ["g", "c"]}}], "mark": {"type": "point", "filled": true, "stroke": "black", "strokeWidth": 1, "size": 32, "opacity": 1},
                      "encoding": {"xOffset": {"field": "r", "type": "ordinal", "scale": {"paddingOuter": 0.3}},
                        "shape": {"field": "g", "type": "nominal", "scale": {"domain": ["WT","Wt1ᶜʳᵉᴱᴿᵀ²LKO","Adipo-LKO","Wt1ᶜʳᵉᴳᶠᴾ-LKO"], "range": ["circle","square","square","triangle-down"]}, "legend": null},
                        "fill": {"field": "c", "type": "nominal", "scale": {"domain": ["Vehicle","Tamoxifen","Aldosterone"], "range": ["white","black","black"]}, "legend": null}}},
                    {"data": {"name": "bars"}, "transform": [{"filter": "datum.p=='d1'"}], "mark": {"type": "rule", "color": "black", "strokeWidth": 1.5}, "encoding": {"y2": {"field": "hi"}}},
                    {"data": {"name": "bars"}, "transform": [{"filter": "datum.p=='d1'"}], "mark": {"type": "tick", "color": "black", "thickness": 1.5, "size": 9},
                      "encoding": {"y": {"field": "hi", "type": "quantitative", "scale": {"domain": [0, 6], "nice": false}, "axis": {"values": [0, 2, 4, 6], "title": ["clu mRNA", "(Fold change)"]}}}},
                    {"data": {"name": "ann"}, "transform": [{"filter": "datum.p=='d1'"}], "mark": {"type": "text", "fontSize": 13, "color": "black"}, "encoding": {"text": {"field": "t"}}}
                  ]
                },
                {
                  "width": 171, "height": 107,
                  "encoding": {
                    "x": {"field": "b", "type": "nominal", "scale": {"domain": ["WT|Vehicle","WT|Aldosterone","Adipo-LKO|Vehicle","Adipo-LKO|Aldosterone","Wt1ᶜʳᵉᴳᶠᴾ-LKO|Vehicle","Wt1ᶜʳᵉᴳᶠᴾ-LKO|Aldosterone"], "paddingInner": 0.33, "paddingOuter": 0.165},
                      "axis": {"title": null, "labelExpr": "datum.value=='WT|Aldosterone' ? 'WT' : datum.value=='Adipo-LKO|Aldosterone' ? 'Adipo-LKO' : datum.value=='Wt1ᶜʳᵉᴳᶠᴾ-LKO|Aldosterone' ? 'Wt1ᶜʳᵉᴳᶠᴾ-LKO' : ''", "labelOffset": -5}},
                    "y": {"field": "v", "type": "quantitative", "scale": {"domain": [0, 3], "nice": false}, "axis": {"values": [0, 1, 2, 3], "title": ["kim-1 mRNA", "(Fold change)"]}}
                  },
                  "layer": [
                    {"data": {"name": "ul"}, "transform": [{"filter": "datum.p=='d2'"}], "mark": {"type": "rule", "color": "black", "strokeWidth": 1.6},
                      "encoding": {"x": {"field": "b", "type": "nominal", "bandPosition": 0, "scale": {"domain": ["WT|Vehicle","WT|Aldosterone","Adipo-LKO|Vehicle","Adipo-LKO|Aldosterone","Wt1ᶜʳᵉᴳᶠᴾ-LKO|Vehicle","Wt1ᶜʳᵉᴳᶠᴾ-LKO|Aldosterone"], "paddingInner": 0.33, "paddingOuter": 0.165},
                        "axis": {"title": null, "labelExpr": "datum.value=='WT|Aldosterone' ? 'WT' : datum.value=='Adipo-LKO|Aldosterone' ? 'Adipo-LKO' : datum.value=='Wt1ᶜʳᵉᴳᶠᴾ-LKO|Aldosterone' ? 'Wt1ᶜʳᵉᴳᶠᴾ-LKO' : ''", "labelOffset": -5}},
                        "x2": {"field": "b2", "bandPosition": 1},
                        "y": {"datum": -0.18, "type": "quantitative", "scale": {"domain": [0, 3], "nice": false}, "axis": {"values": [0, 1, 2, 3], "title": ["kim-1 mRNA", "(Fold change)"]}}}},
                    {"data": {"name": "bars"}, "transform": [{"filter": "datum.p=='d2'"}], "mark": {"type": "bar", "fill": "white", "stroke": "black", "strokeWidth": 1.8}},
                    {"data": {"name": "pts"}, "transform": [{"filter": "datum.p=='d2'"}, {"lookup": "b", "from": {"data": {"name": "bars"}, "key": "b", "fields": ["g", "c"]}}], "mark": {"type": "point", "filled": true, "stroke": "black", "strokeWidth": 1, "size": 32, "opacity": 1},
                      "encoding": {"xOffset": {"field": "r", "type": "ordinal", "scale": {"paddingOuter": 0.3}},
                        "shape": {"field": "g", "type": "nominal", "scale": {"domain": ["WT","Wt1ᶜʳᵉᴱᴿᵀ²LKO","Adipo-LKO","Wt1ᶜʳᵉᴳᶠᴾ-LKO"], "range": ["circle","square","square","triangle-down"]}, "legend": null},
                        "fill": {"field": "c", "type": "nominal", "scale": {"domain": ["Vehicle","Tamoxifen","Aldosterone"], "range": ["white","black","black"]}, "legend": null}}},
                    {"data": {"name": "bars"}, "transform": [{"filter": "datum.p=='d2'"}], "mark": {"type": "rule", "color": "black", "strokeWidth": 1.5}, "encoding": {"y2": {"field": "hi"}}},
                    {"data": {"name": "bars"}, "transform": [{"filter": "datum.p=='d2'"}], "mark": {"type": "tick", "color": "black", "thickness": 1.5, "size": 9},
                      "encoding": {"y": {"field": "hi", "type": "quantitative", "scale": {"domain": [0, 3], "nice": false}, "axis": {"values": [0, 1, 2, 3], "title": ["kim-1 mRNA", "(Fold change)"]}}}},
                    {"data": {"name": "ann"}, "transform": [{"filter": "datum.p=='d2'"}], "mark": {"type": "text", "fontSize": 13, "color": "black"}, "encoding": {"text": {"field": "t"}}}
                  ]
                }
              ]
            },
            {
              "width": 175, "height": 107,
              "title": {"text": "○ □ ▽ Vehicle  ● ■ ▼ Aldosterone", "anchor": "end", "frame": "bounds", "fontSize": 13, "offset": 10, "dx": 5},
              "encoding": {
                "x": {"field": "b", "type": "nominal", "scale": {"domain": ["WT|Vehicle","WT|Aldosterone","Adipo-LKO|Vehicle","Adipo-LKO|Aldosterone","Wt1ᶜʳᵉᴳᶠᴾ-LKO|Vehicle","Wt1ᶜʳᵉᴳᶠᴾ-LKO|Aldosterone"], "paddingInner": 0.33, "paddingOuter": 0.165},
                  "axis": {"title": null, "labelExpr": "datum.value=='WT|Aldosterone' ? 'WT' : datum.value=='Adipo-LKO|Aldosterone' ? 'Adipo-LKO' : datum.value=='Wt1ᶜʳᵉᴳᶠᴾ-LKO|Aldosterone' ? 'Wt1ᶜʳᵉᴳᶠᴾ-LKO' : ''", "labelOffset": -5}},
                "y": {"field": "v", "type": "quantitative", "scale": {"domain": [0, 1.5], "nice": false}, "axis": {"values": [0, 0.5, 1, 1.5], "format": ".1f", "title": ["wt1 mRNA", "(Fold change)"]}}
              },
              "layer": [
                {"data": {"name": "ul"}, "transform": [{"filter": "datum.p=='d3'"}], "mark": {"type": "rule", "color": "black", "strokeWidth": 1.6},
                  "encoding": {"x": {"field": "b", "type": "nominal", "bandPosition": 0, "scale": {"domain": ["WT|Vehicle","WT|Aldosterone","Adipo-LKO|Vehicle","Adipo-LKO|Aldosterone","Wt1ᶜʳᵉᴳᶠᴾ-LKO|Vehicle","Wt1ᶜʳᵉᴳᶠᴾ-LKO|Aldosterone"], "paddingInner": 0.33, "paddingOuter": 0.165},
                    "axis": {"title": null, "labelExpr": "datum.value=='WT|Aldosterone' ? 'WT' : datum.value=='Adipo-LKO|Aldosterone' ? 'Adipo-LKO' : datum.value=='Wt1ᶜʳᵉᴳᶠᴾ-LKO|Aldosterone' ? 'Wt1ᶜʳᵉᴳᶠᴾ-LKO' : ''", "labelOffset": -5}},
                    "x2": {"field": "b2", "bandPosition": 1},
                    "y": {"datum": -0.09, "type": "quantitative", "scale": {"domain": [0, 1.5], "nice": false}, "axis": {"values": [0, 0.5, 1, 1.5], "format": ".1f", "title": ["wt1 mRNA", "(Fold change)"]}}}},
                {"data": {"name": "bars"}, "transform": [{"filter": "datum.p=='d3'"}], "mark": {"type": "bar", "fill": "white", "stroke": "black", "strokeWidth": 1.8}},
                {"data": {"name": "pts"}, "transform": [{"filter": "datum.p=='d3'"}, {"lookup": "b", "from": {"data": {"name": "bars"}, "key": "b", "fields": ["g", "c"]}}], "mark": {"type": "point", "filled": true, "stroke": "black", "strokeWidth": 1, "size": 32, "opacity": 1},
                  "encoding": {"xOffset": {"field": "r", "type": "ordinal", "scale": {"paddingOuter": 0.3}},
                    "shape": {"field": "g", "type": "nominal", "scale": {"domain": ["WT","Wt1ᶜʳᵉᴱᴿᵀ²LKO","Adipo-LKO","Wt1ᶜʳᵉᴳᶠᴾ-LKO"], "range": ["circle","square","square","triangle-down"]}, "legend": null},
                    "fill": {"field": "c", "type": "nominal", "scale": {"domain": ["Vehicle","Tamoxifen","Aldosterone"], "range": ["white","black","black"]}, "legend": null}}},
                {"data": {"name": "bars"}, "transform": [{"filter": "datum.p=='d3'"}], "mark": {"type": "rule", "color": "black", "strokeWidth": 1.5}, "encoding": {"y2": {"field": "hi"}}},
                {"data": {"name": "bars"}, "transform": [{"filter": "datum.p=='d3'"}], "mark": {"type": "tick", "color": "black", "thickness": 1.5, "size": 9},
                  "encoding": {"y": {"field": "hi", "type": "quantitative", "scale": {"domain": [0, 1.5], "nice": false}, "axis": {"values": [0, 0.5, 1, 1.5], "format": ".1f", "title": ["wt1 mRNA", "(Fold change)"]}}}},
                {"data": {"name": "ann"}, "transform": [{"filter": "datum.p=='d3'"}], "mark": {"type": "text", "fontSize": 13, "color": "black"}, "encoding": {"text": {"field": "t"}}}
              ]
            }
          ]
        }
      ]
    }
  ]
}
